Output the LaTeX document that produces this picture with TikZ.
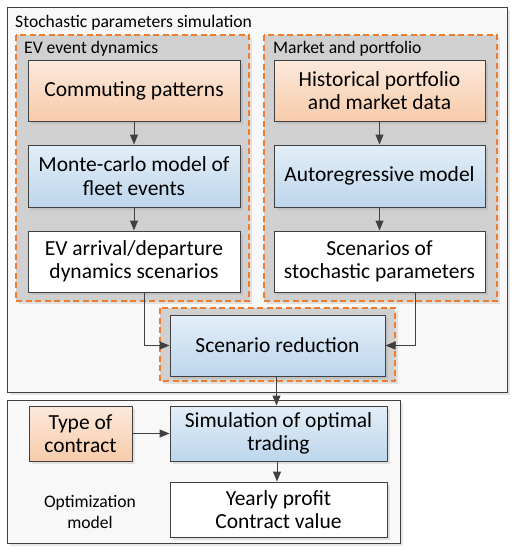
\documentclass[tikz,border=0pt]{standalone}
\usepackage{fontspec}
\setmainfont{Carlito}
\usetikzlibrary{arrows.meta,shadows,calc}
\definecolor{edgec}{HTML}{404040}
\definecolor{orgtop}{HTML}{FCE9DB}
\definecolor{orgbot}{HTML}{F7CBAA}
\definecolor{blutop}{HTML}{E3EEF8}
\definecolor{blubot}{HTML}{BDD6EC}
\definecolor{dashor}{HTML}{ED7D31}
\definecolor{grpgray}{HTML}{D0D0D0}
\definecolor{outerfill}{HTML}{F8F8F8}
\tikzset{
  shad/.style={drop shadow={shadow xshift=2.5pt,shadow yshift=-2.5pt,opacity=0.2,fill=black!50}},
  box/.style={draw=edgec,line width=1pt,align=center,inner sep=0pt,
    font=\fontsize{21.5}{23.5}\selectfont,text=black,shad},
  orbox/.style={box,top color=orgtop,bottom color=orgbot},
  blbox/.style={box,top color=blutop,bottom color=blubot},
  whbox/.style={box,fill=white},
  outerbox/.style={draw=edgec,line width=1pt,fill=outerfill,shad},
  grpbox/.style={draw=dashor,dash pattern=on 6pt off 3.5pt,line width=1.1pt,fill=grpgray,shad},
  lbl/.style={font=\fontsize{17.6}{21}\selectfont,text=black,inner sep=0pt},
  arr/.style={draw=edgec,line width=1pt,-{Triangle[length=10pt,width=8pt]}}
}
\begin{document}
\begin{tikzpicture}[x=1pt,y=-1pt]
\useasboundingbox (0,0) rectangle (515,550);
% outer containers
\path[outerbox] (7,7) rectangle (507,392);
\node[lbl,anchor=base west] (tstoch) at (15,27) {Stochastic parameters simulation};
\path[grpbox] (16,35) rectangle (249,301);
\node[lbl,anchor=base west] (tev) at (24,53) {EV event dynamics};
\path[grpbox] (264,35) rectangle (497,301);
\node[lbl,anchor=base west] (tmk) at (273,53) {Market and portfolio};
\path[grpbox] (160,308) rectangle (395,381);
\path[outerbox] (7,400) rectangle (400,543);
\node[lbl,align=center,font=\fontsize{17.6}{21}\selectfont] (topt) at (90,512) {Optimization\\model};
% left column
\node[orbox,minimum width=212pt,minimum height=61pt] (comm) at (134,90.5) {Commuting patterns};
\node[blbox,minimum width=212pt,minimum height=62pt] (mc) at (134,176) {Monte-carlo model of\\fleet events};
\node[whbox,minimum width=212pt,minimum height=61pt] (ev) at (134,261.5) {EV arrival/departure\\dynamics scenarios};
% right column
\node[orbox,minimum width=211pt,minimum height=61pt] (hist) at (379.5,90.5) {Historical portfolio\\and market data};
\node[blbox,minimum width=211pt,minimum height=62pt] (ar) at (379.5,176) {Autoregressive model};
\node[whbox,minimum width=211pt,minimum height=61pt] (scen) at (379.5,261.5) {Scenarios of\\stochastic parameters};
% reduction
\node[blbox,minimum width=215pt,minimum height=61pt] (red) at (277.5,345.5) {Scenario reduction};
% optimization
\node[orbox,minimum width=103pt,minimum height=55pt] (type) at (80.5,433.5) {Type of\\contract};
\node[blbox,minimum width=217pt,minimum height=55pt] (sim) at (278.5,433.5) {Simulation of optimal\\trading};
\node[whbox,minimum width=217pt,minimum height=55pt] (yp) at (278.5,509.5) {Yearly profit\\Contract value};
% arrows
\draw[arr] (comm) -- (mc);
\draw[arr] (mc) -- (ev);
\draw[arr] (hist) -- (ar);
\draw[arr] (ar) -- (scen);
\draw[arr] ($(ev.south)+(10,0)$) |- (red.west);
\draw[arr] ($(scen.south)+(35.5,0)$) |- (red.east);
\draw[arr] ($(red.south)+(-1,0)$) -- ($(sim.north)+(-2,0)$);
\draw[arr] ($(sim.south)+(-1.5,0)$) -- ($(yp.north)+(-1.5,0)$);
\draw[arr] (type) -- (sim);
\end{tikzpicture}
\end{document}
